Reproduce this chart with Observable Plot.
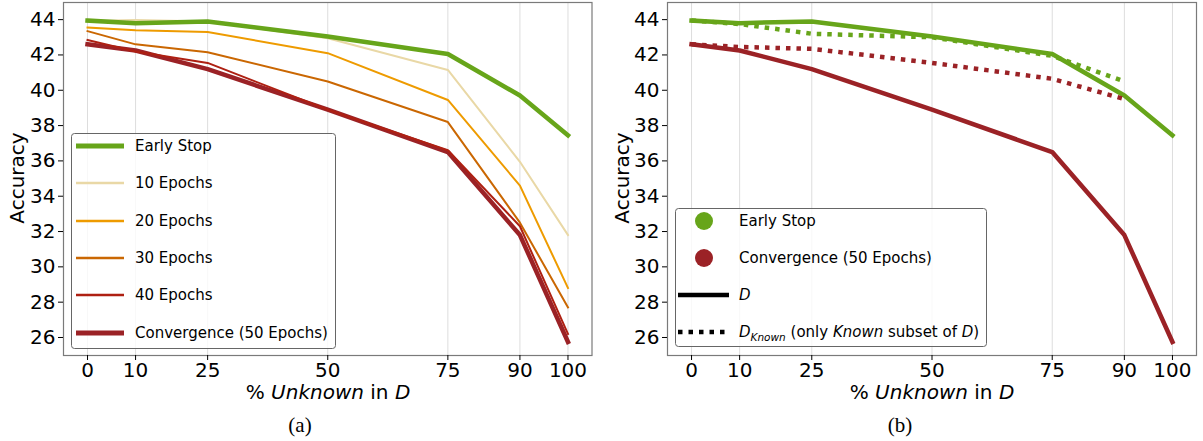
<!DOCTYPE html>
<html><head><meta charset="utf-8">
<script src="https://cdn.jsdelivr.net/npm/d3@7"></script>
<script src="https://cdn.jsdelivr.net/npm/@observablehq/plot@0.6"></script>
<style>
html,body{margin:0;padding:0;background:#fff;}
#wrap{position:relative;width:1203px;height:441px;overflow:hidden;font-family:"DejaVu Sans";}
#wrap > svg{position:absolute;top:0;}
</style></head><body><div id="wrap"></div>
<script>
// ---- data ----
const pctUnknown = [0, 10, 25, 50, 75, 90, 100];
const knownPct = [0, 10, 25, 50, 75, 90];
const xTicks = [0, 10, 25, 50, 75, 90, 100];
const yTicks = [26, 28, 30, 32, 34, 36, 38, 40, 42, 44];

const earlyStop = [43.95, 43.8, 43.9, 43.05, 42.05, 39.7, 37.45];
const epochs10 = [43.92, 43.98, 43.9, 42.95, 41.15, 35.95, 31.8];
const epochs20 = [43.55, 43.4, 43.3, 42.1, 39.45, 34.6, 28.8];
const epochs30 = [43.35, 42.6, 42.15, 40.5, 38.2, 32.5, 27.7];
const epochs40 = [42.85, 42.2, 41.55, 38.9, 36.6, 32.3, 26.2];
const convergence = [42.6, 42.25, 41.2, 38.9, 36.5, 31.8, 25.75];

const knownEarlyStop = [43.95, 43.75, 43.2, 43.0, 41.95, 40.5];
const knownConvergence = [42.6, 42.45, 42.35, 41.55, 40.65, 39.5];

const seriesNames = ["Early Stop", "10 Epochs", "20 Epochs", "30 Epochs", "40 Epochs", "Convergence (50 Epochs)"];
const seriesColors = ["#67a51a", "#e9d8a6", "#ee9b00", "#ca6702", "#ae2012", "#9b2226"];
const seriesWidths = [4.5, 2, 2, 2, 2, 4.5];
const seriesValues = [earlyStop, epochs10, epochs20, epochs30, epochs40, convergence];
const drawOrder = [1, 2, 3, 5, 4, 0];

const rows = (vals, xs) => vals.map((v, i) => ({x: xs[i], y: v}));

function panel(width, marginLeft, marginRight, marks) {
  return Plot.plot({
    width, height: 400, marginLeft, marginRight, marginTop: 2, marginBottom: 45,
    style: {fontFamily: "DejaVu Sans", fontSize: "20px", background: "transparent", overflow: "visible", color: "#000"},
    x: {domain: [-5, 105]},
    y: {domain: [24.98, 44.97]},
    marks: [
      Plot.gridX(xTicks, {stroke: "#dddddd", strokeOpacity: 1, strokeWidth: 1}),
      ...marks,
      Plot.frame({stroke: "#7a7a7a", strokeWidth: 1.2}),
      Plot.axisX(xTicks, {tickSize: 5, tickPadding: 2, fontSize: 20, label: null, tickFormat: d => String(d)}),
      Plot.axisY(yTicks, {tickSize: 5, tickPadding: 3, fontSize: 20, label: null, tickFormat: d => String(d)})
    ]
  });
}

const wrap = document.getElementById("wrap");

// left panel
const leftMarks = drawOrder.map(i =>
  Plot.line(rows(seriesValues[i], pctUnknown), {x: "x", y: "y", stroke: seriesColors[i], strokeWidth: seriesWidths[i], strokeLinejoin: "round", strokeLinecap: "square"}));
const left = panel(600, 63, 8.5, leftMarks);
left.style.left = "0px";
wrap.appendChild(left);

// right panel
const green = seriesColors[0], red = seriesColors[5];
const rightMarks = [
  Plot.line(rows(earlyStop, pctUnknown), {x: "x", y: "y", stroke: green, strokeWidth: 4.5, strokeLinejoin: "round", strokeLinecap: "square"}),
  Plot.line(rows(knownEarlyStop, knownPct), {x: "x", y: "y", stroke: green, strokeWidth: 4.5, strokeDasharray: "4.5,6", strokeLinecap: "butt"}),
  Plot.line(rows(convergence, pctUnknown), {x: "x", y: "y", stroke: red, strokeWidth: 4.5, strokeLinejoin: "round", strokeLinecap: "square"}),
  Plot.line(rows(knownConvergence, knownPct), {x: "x", y: "y", stroke: red, strokeWidth: 4.5, strokeDasharray: "4.5,6", strokeLinecap: "butt"})
];
const right = panel(603, 67, 7, rightMarks);
right.style.left = "600px";
wrap.appendChild(right);

// overlay: axis labels, legends, captions
const ov = d3.select(wrap).append("svg")
  .attr("width", 1203).attr("height", 441)
  .style("left", "0px")
  .style("font-family", "DejaVu Sans");

function xLabel(cx) {
  const t = ov.append("text").attr("x", cx).attr("y", 399).attr("text-anchor", "middle").attr("font-size", 20);
  t.append("tspan").text("% ");
  t.append("tspan").attr("font-style", "italic").text("Unknown");
  t.append("tspan").text(" in ");
  t.append("tspan").attr("font-style", "italic").text("D");
}
function yLabel(cx) {
  ov.append("text").attr("transform", `translate(${cx},178) rotate(-90)`).attr("text-anchor", "middle")
    .attr("dy", "0.35em").attr("font-size", 20).text("Accuracy");
}
xLabel(328); xLabel(932);
yLabel(17); yLabel(622);

ov.append("text").attr("x", 300).attr("y", 432).attr("text-anchor", "middle")
  .attr("font-family", "Liberation Serif").attr("font-size", 21).text("(a)");
ov.append("text").attr("x", 900).attr("y", 432).attr("text-anchor", "middle")
  .attr("font-family", "Liberation Serif").attr("font-size", 21).text("(b)");

// left legend
ov.append("rect").attr("x", 71.5).attr("y", 133.5).attr("width", 264).attr("height", 215).attr("rx", 3)
  .attr("fill", "rgba(255,255,255,0.8)").attr("stroke", "#666");
const rowY = [146, 183, 221, 258, 295, 333];
seriesNames.forEach((name, i) => {
  ov.append("line").attr("x1", 76).attr("x2", 124).attr("y1", rowY[i]).attr("y2", rowY[i])
    .attr("stroke", seriesColors[i]).attr("stroke-width", seriesWidths[i] + 0.3);
  ov.append("text").attr("x", 135).attr("y", rowY[i]).attr("dy", "0.36em").attr("font-size", 15).text(name);
});

// right legend
ov.append("rect").attr("x", 675.5).attr("y", 208.5).attr("width", 311).attr("height", 138).attr("rx", 3)
  .attr("fill", "rgba(255,255,255,0.8)").attr("stroke", "#666");
ov.append("circle").attr("cx", 704).attr("cy", 221).attr("r", 9).attr("fill", green);
ov.append("circle").attr("cx", 704).attr("cy", 258).attr("r", 9).attr("fill", red);
ov.append("line").attr("x1", 678).attr("x2", 729).attr("y1", 295).attr("y2", 295).attr("stroke", "#000").attr("stroke-width", 4.5);
ov.append("line").attr("x1", 678).attr("x2", 729).attr("y1", 332).attr("y2", 332).attr("stroke", "#000").attr("stroke-width", 4.5).attr("stroke-dasharray", "4.5,6");
ov.append("text").attr("x", 739).attr("y", 221).attr("dy", "0.36em").attr("font-size", 15).text("Early Stop");
ov.append("text").attr("x", 739).attr("y", 258).attr("dy", "0.36em").attr("font-size", 15).text("Convergence (50 Epochs)");
ov.append("text").attr("x", 739).attr("y", 295).attr("dy", "0.36em").attr("font-size", 15).attr("font-style", "italic").text("D");
const dk = ov.append("text").attr("x", 739).attr("y", 332).attr("dy", "0.36em").attr("font-size", 15);
dk.append("tspan").attr("font-style", "italic").text("D");
dk.append("tspan").attr("font-style", "italic").attr("font-size", 10.5).attr("dy", "0.3em").text("Known");
dk.append("tspan").attr("dy", "-0.22em").text(" (only ");
dk.append("tspan").attr("font-style", "italic").text("Known");
dk.append("tspan").text(" subset of ");
dk.append("tspan").attr("font-style", "italic").text("D");
dk.append("tspan").text(")");
</script></body></html>
